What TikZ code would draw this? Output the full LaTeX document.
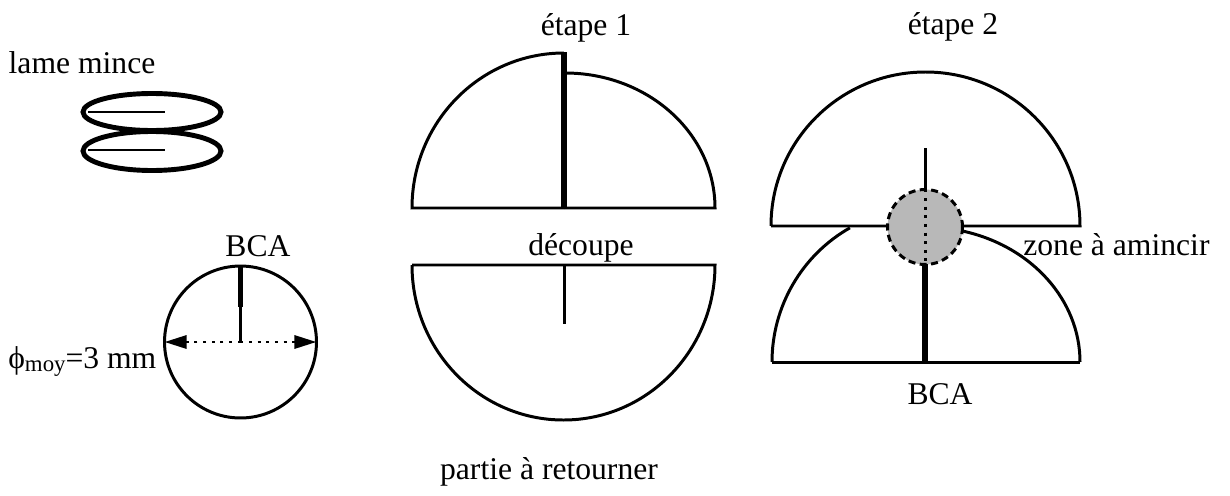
\documentclass[tikz,border=0pt]{standalone}
\usepackage{fontspec}
\setmainfont{Liberation Serif}
\usetikzlibrary{arrows.meta,positioning}
\definecolor{zonegray}{HTML}{B8B8B8}

\begin{document}
\begin{tikzpicture}[x=.02cm,y=.02cm,>={Triangle[length=4.4mm,width=2.6mm]},
  label/.style={font=\fontsize{18}{20}\selectfont,inner sep=0pt,anchor=base},
  thinline/.style={line width=1.7pt},
  thickline/.style={line width=3pt},
  lamella/.style={line width=2.8pt},
  dotline/.style={line width=1.7pt,dash pattern=on 1.7pt off 3.2pt}]
\useasboundingbox (0,0) rectangle (1230,495);
% lame mince
\node[label] (lame) at (82,422) {lame mince};
\draw[lamella] (152,383) ellipse (69 and 18.5);
\draw[lamella] (152,344) ellipse (69 and 19.5);
\coordinate (slitA) at (88,383);
\coordinate (slitB) at (88,345);
\draw[thinline] (slitA)--++(77,0);
\draw[thinline] (slitB)--++(77,0);
% disque
\node[label] (bcaleft) at (258,239) {BCA};
\node[circle,draw,thinline,minimum size=3.04cm,inner sep=0pt,outer sep=0pt] (disc) at (240.5,153) {};
\coordinate (discmid) at (disc.center);
\coordinate (bcaend) at (240.5,188);
\draw[thickline] (disc.north)--(bcaend);
\draw[thinline] (bcaend)--(discmid);
\draw[->,dotline] (discmid)--(disc.west);
\draw[->,dotline] (discmid)--(disc.east);
\node[label,anchor=base west] (phi) at (8,127) {ϕ\raisebox{-.25ex}{\fontsize{13}{14}\selectfont moy}=3 mm};
% etape 1
\node[label] (step1) at (586,460) {étape 1};
\coordinate (cutA) at (564,287);
\coordinate (cutB) at (564,443);
\draw[thinline] (cutA)--(412,287) arc (180:90:152 and 155);
\draw[thinline] (cutA)--(715,287) arc (0:90:150 and 135);
\draw[thickline] (cutA)--(cutB);
\node[label] (decoupe) at (581,240) {découpe};
\coordinate (flipA) at (564,230);
\coordinate (flipB) at (564,171);
\draw[thinline] (412,230)--(715,230) arc (0:-180:151.5 and 155)--cycle;
\draw[thinline] (flipA)--(flipB);
\node[label] (flip) at (549,16) {partie à retourner};
% etape 2
\node[label] (step2) at (953,461) {étape 2};
\draw[thinline] (771,269)--(1080,269) arc (0:180:154.5 and 154)--cycle;
\draw[thinline] (772,133)--(1080,133);
\draw[thinline] (772,133) arc (180:119.4:153 and 154);
\draw[thinline] (1080,133) arc (0:75.8:155 and 135);
\node[circle,draw,thinline,dash pattern=on 4pt off 2.5pt,fill=zonegray,minimum size=1.5cm,inner sep=0pt,outer sep=0pt] (zone) at (925,268) {};
\coordinate (top) at (925,347);
\coordinate (foot) at (925,133);
\draw[thinline] (top)--(zone.north);
\draw[thickline] (zone.south)--(foot);
\draw[dotline] (zone.north)--(zone.south);
\node[label,anchor=base west] (zonetext) at (1023,240) {zone à amincir};
\node[label] (bcaright) at (940,91) {BCA};
\end{tikzpicture}
\end{document}
